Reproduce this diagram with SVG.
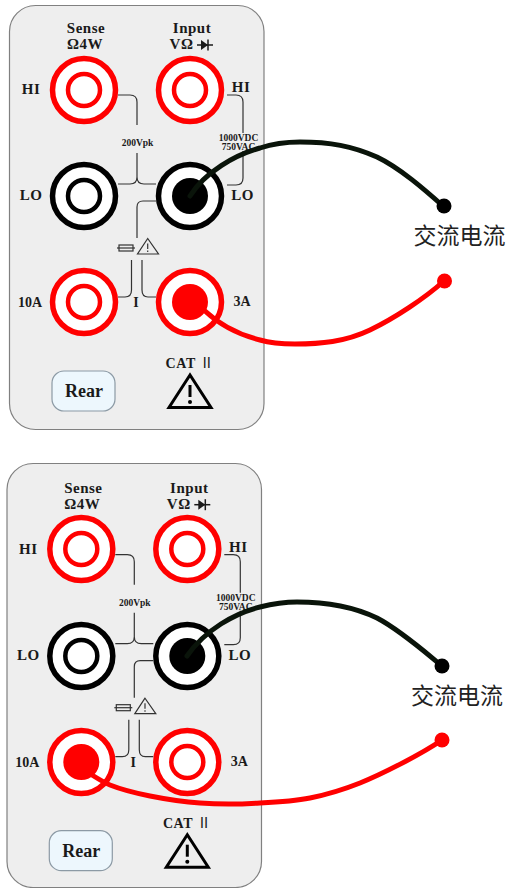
<svg xmlns="http://www.w3.org/2000/svg" width="506" height="888" viewBox="0 0 506 888">
<style>
text{font-family:"Liberation Serif","Times New Roman",serif;font-weight:bold;fill:#1a1a1a;text-anchor:middle}
.panel{fill:#eeeeee;stroke:#808080;stroke-width:1.2}
.j{fill:#fff;stroke-width:5.500}
.ji{fill:#fff;stroke-width:4.500}
.r{stroke:#ff0000}.k{stroke:#000}
.pr{fill:#ff0000}.pk{fill:#000}
.l{fill:none;stroke:#333;stroke-width:1.2}
.t{font-size:15px;letter-spacing:.5px}
.a{font-size:14px}
.s{font-size:9.500px}
.rear{fill:#edf7fd;stroke:#8c9aa5;stroke-width:1.2}
.tri{fill:none;stroke-linejoin:miter}
.wk{fill:none;stroke:#0a140a;stroke-width:5;stroke-linecap:round}
.wr{fill:none;stroke:#ff0000;stroke-width:5;stroke-linecap:round}
.cn{font-family:"Noto Sans CJK SC",sans-serif;font-weight:normal;font-size:23px;fill:#222}
.rn{font-family:"Noto Sans CJK SC",sans-serif;font-weight:normal}
</style>
<defs>
<g id="conn">
<path class="l" d="M118 95H130Q137 95 137 102V125M137 153V177Q137 184 130 184H118M137 177Q137 184 144 184H156"/>
<path class="l" d="M227 95H236Q243 95 243 102V133M243 151V178Q243 185 236 185H227"/>
<path class="l" d="M156 201H143Q137 201 137 207V238"/>
<path class="l" d="M131.500 260V290Q131.500 297 125 297H118M142 260V290Q142 297 148 297H156"/>
<rect class="l" x="119" y="245" width="14" height="6"/>
<path class="l" d="M117 248H135"/>
<path class="l" d="M147.700 238.500L137.500 254H158.500Z"/>
<path class="l" d="M147.700 243.500V249M147.700 250.500V252"/>
</g>
<g id="labels">
<text class="t" x="86" y="33">Sense</text>
<text class="t" x="85" y="49">Ω4W</text>
<text class="t" x="192" y="33">Input</text>
<text class="t" x="181.500" y="49">VΩ</text>
<path d="M197 45H213" stroke="#1a1a1a" stroke-width="1.500"/><path d="M201 40L208 45L201 50Z" fill="#1a1a1a"/><path d="M208 39.500V50.500" stroke="#1a1a1a" stroke-width="1.500"/>
<text class="t" x="31" y="94">HI</text>
<text class="t" x="241" y="92">HI</text>
<text class="t" x="31" y="200">LO</text>
<text class="t" x="242.500" y="200">LO</text>
<text class="s" x="137.500" y="146">200Vpk</text>
<text class="s" x="238.500" y="141">1000VDC</text>
<text class="s" x="238.500" y="150">750VAC</text>
<text class="a" x="30" y="307">10A</text>
<text class="a" x="136" y="307">I</text>
<text class="a" x="242" y="306">3A</text>
<text x="190" y="368" style="font-size:14px;letter-spacing:.6px">CAT <tspan class="rn">Ⅱ</tspan></text>
<path class="tri" stroke="#000" stroke-width="3" d="M190 375L169 407.500H211Z"/>
<path d="M190 385V397" stroke="#000" stroke-width="3"/><circle cx="190" cy="402" r="2" fill="#000"/>
<rect class="rear" x="52" y="371" width="63" height="40" rx="12"/>
<text x="84" y="397" style="font-size:18px">Rear</text>
</g>
<g id="jr"><circle class="j r" r="31.500"/><circle class="ji r" r="16"/></g>
<g id="jk"><circle class="j k" r="31.500"/><circle class="ji k" r="16"/></g>
</defs>

<g id="panel-top">
<rect class="panel" x="9.500" y="5.500" width="254.500" height="424" rx="26"/>
</g>
<g id="connectors-top"><use href="#conn"/></g>
<g id="labels-top"><use href="#labels"/></g>
<g id="jack-top-sense-hi"><use href="#jr" x="84" y="90"/></g>
<g id="jack-top-input-hi"><use href="#jr" x="190" y="90"/></g>
<g id="jack-top-sense-lo"><use href="#jk" x="84" y="196"/></g>
<g id="jack-top-input-lo"><circle class="j k" cx="190" cy="196" r="31.500"/><circle class="pk" cx="190" cy="196" r="18"/></g>
<g id="jack-top-10a"><use href="#jr" x="84" y="302"/></g>
<g id="jack-top-3a"><circle class="j r" cx="190" cy="302" r="31.500"/><circle class="pr" cx="190" cy="302" r="18"/></g>

<g id="panel-bottom">
<rect class="panel" x="7" y="463.500" width="254.500" height="424" rx="26"/>
</g>
<g id="connectors-bottom" transform="translate(-2.700 459.700)"><use href="#conn"/></g>
<g id="labels-bottom" transform="translate(-2.700 459.700)"><use href="#labels"/></g>
<g id="jack-bottom-sense-hi"><use href="#jr" x="81.300" y="549"/></g>
<g id="jack-bottom-input-hi"><use href="#jr" x="187.300" y="549"/></g>
<g id="jack-bottom-sense-lo"><use href="#jk" x="81.300" y="656"/></g>
<g id="jack-bottom-input-lo"><circle class="j k" cx="187.300" cy="656" r="31.500"/><circle class="pk" cx="187.300" cy="656" r="18"/></g>
<g id="jack-bottom-10a"><circle class="j r" cx="81.300" cy="762" r="31.500"/><circle class="pr" cx="81.300" cy="762" r="18"/></g>
<g id="jack-bottom-3a"><use href="#jr" x="187.300" y="762"/></g>

<g id="wires">
<path class="wk" d="M190 196C205 172 235 155 260 148C275 143 290 142 300 142C330 142 352 146 377 157C400 168 425 190 443 206"/>
<path class="wr" d="M205 311C220 325 240 335 260 340C270 343 280 344 295 344C320 344 345 342 370 330C395 318 425 298 444 281"/>
<path class="wk" d="M187 656C205 630 235 613 260 607C272 604 283 602 297 602C325 602 352 606 377 618C400 630 425 652 442 666"/>
<path class="wr" d="M92 775C100 780 105 783 110 785C125 791 135 793 150 796C170 800 185 802 200 803C225 805 245 804 260 803C280 802 295 801 310 798C330 794 345 789 360 783C380 775 420 755 442 740"/>
</g>
<g id="probe-top-black"><circle cx="444" cy="206" r="7.500" fill="#000"/></g>
<g id="probe-top-red"><circle cx="444.500" cy="281" r="7.500" fill="#ff0000"/></g>
<g id="probe-bottom-black"><circle cx="442" cy="666" r="7.500" fill="#000"/></g>
<g id="probe-bottom-red"><circle cx="442" cy="740" r="7.500" fill="#ff0000"/></g>
<g id="label-top"><text class="cn" x="459.500" y="244">交流电流</text></g>
<g id="label-bottom"><text class="cn" x="457" y="704">交流电流</text></g>
</svg>
